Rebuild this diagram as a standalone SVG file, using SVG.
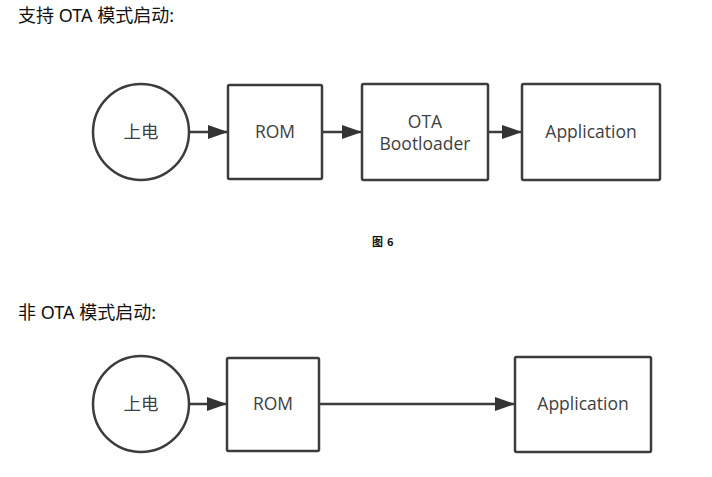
<svg xmlns="http://www.w3.org/2000/svg" width="712" height="477" viewBox="0 0 712 477">
<style>
.shape{fill:#fff;stroke:#3c3c3c;stroke-width:2.5}
.conn{stroke:#3c3c3c;stroke-width:2.5;fill:none}
.lbl{font-family:"Open Sans","Noto Sans CJK SC",sans-serif;font-size:17.5px;fill:#404040;text-anchor:middle;dominant-baseline:central}
.title{font-family:"Noto Sans","Noto Sans CJK SC",sans-serif;font-size:18px;fill:#111}
.cap{font-family:"Noto Sans CJK SC",sans-serif;font-size:11px;font-weight:bold;fill:#111}
</style>
<defs>
<marker id="ah" viewBox="0 0 20 14" refX="20" refY="7" markerWidth="8" markerHeight="5.6" markerUnits="strokeWidth" orient="auto">
<path d="M0,0 L20,7 L0,14 z" fill="#333"/>
</marker>
</defs>
<rect width="712" height="477" fill="#fff"/>
<text class="title" x="18" y="22">支持 OTA 模式启动:</text>
<text class="title" x="18" y="319">非 OTA 模式启动:</text>
<text class="cap" x="372" y="246">图</text>
<text class="cap" x="387" y="246">6</text>
<g id="connectors">
<line class="conn" x1="189" y1="132" x2="228" y2="132" marker-end="url(#ah)"/>
<line class="conn" x1="322" y1="132" x2="362" y2="132" marker-end="url(#ah)"/>
<line class="conn" x1="488" y1="132" x2="522" y2="132" marker-end="url(#ah)"/>
<line class="conn" x1="189" y1="404" x2="227" y2="404" marker-end="url(#ah)"/>
<line class="conn" x1="319" y1="404" x2="515" y2="404" marker-end="url(#ah)"/>
</g>
<g id="power1"><circle class="shape" cx="141" cy="132" r="48"/><text class="lbl" x="141" y="131">上电</text></g>
<g id="rom1"><rect class="shape" x="228" y="85" width="94" height="94" rx="1.5"/><text class="lbl" x="275" y="131">ROM</text></g>
<g id="ota1"><rect class="shape" x="362" y="84" width="126" height="96" rx="1.5"/><text class="lbl" x="425" y="121">OTA</text><text class="lbl" x="425" y="143">Bootloader</text></g>
<g id="app1"><rect class="shape" x="522" y="84" width="138" height="96" rx="1.5"/><text class="lbl" x="591" y="131">Application</text></g>
<g id="power2"><circle class="shape" cx="141" cy="404" r="48"/><text class="lbl" x="141" y="403">上电</text></g>
<g id="rom2"><rect class="shape" x="227" y="358" width="92" height="93" rx="1.5"/><text class="lbl" x="273" y="403">ROM</text></g>
<g id="app2"><rect class="shape" x="515" y="357" width="136" height="95" rx="1.5"/><text class="lbl" x="583" y="403">Application</text></g>
</svg>
